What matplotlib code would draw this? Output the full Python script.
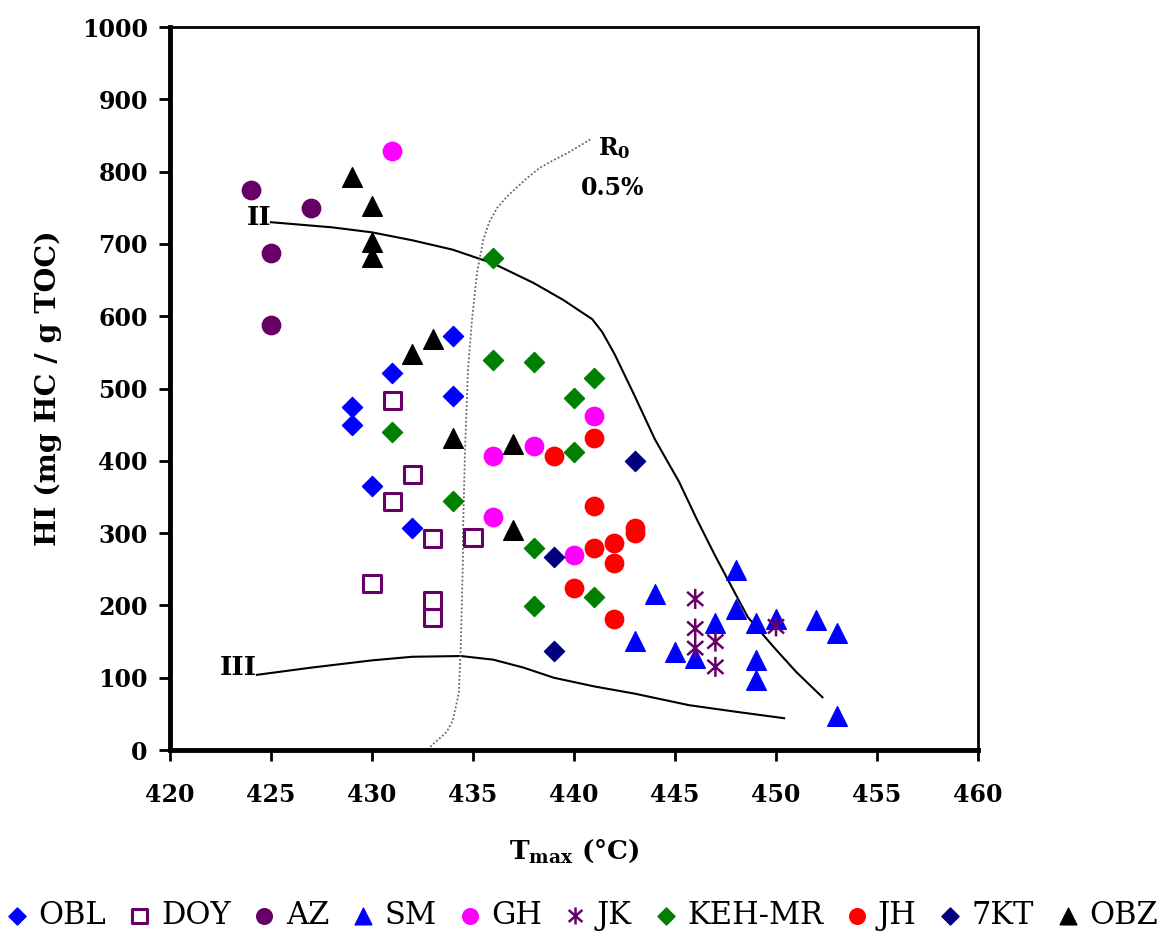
import matplotlib
matplotlib.use("Agg")
import matplotlib.pyplot as plt
from matplotlib.path import Path

plt.rcParams['font.family'] = 'DejaVu Serif'
plt.rcParams['mathtext.fontset'] = 'dejavuserif'

# sample data (Tmax in degC, HI in mg HC / g TOC)
obl_t = [434, 431, 434, 429, 429, 430, 432]
obl_hi = [572, 521, 490, 474, 449, 365, 307]

doy_t = [431, 432, 431, 433, 435, 430, 433, 433]
doy_hi = [483, 381, 344, 292, 294, 230, 207, 183]

az_t = [424, 427, 425, 425]
az_hi = [775, 750, 688, 588]

sm_t = [448, 444, 443, 445, 446, 447, 448, 449, 450, 452, 453, 449, 449, 453]
sm_hi = [249, 216, 151, 136, 127, 176, 195, 176, 181, 180, 162, 124, 97, 47]

gh_t = [431, 441, 436, 438, 436, 440]
gh_hi = [828, 462, 406, 420, 322, 270]

jk_t = [446, 446, 446, 447, 447, 450]
jk_hi = [209, 168, 141, 150, 115, 171]

keh_t = [436, 436, 438, 441, 440, 431, 440, 434, 438, 438, 441]
keh_hi = [680, 539, 536, 514, 487, 440, 412, 344, 279, 199, 211]

jh_t = [441, 439, 441, 441, 442, 443, 443, 442, 440, 442]
jh_hi = [431, 406, 338, 279, 286, 307, 300, 259, 224, 181]

kt_t = [443, 439, 439]
kt_hi = [400, 267, 137]

obz_t = [429, 430, 430, 430, 432, 433, 434, 437, 437]
obz_hi = [793, 752, 702, 682, 548, 568, 432, 423, 305]

# kerogen type boundaries and Ro 0.5% line
type2_t = [425, 428, 430, 432, 434, 436, 438, 439.5, 440.3, 440.9, 441.4, 442, 443,
           444, 445.2, 446.1, 447, 447.8, 448.6, 449.9, 451, 452.3]
type2_hi = [730, 723, 716, 705, 692, 673, 646, 622, 607, 596, 578, 548, 490,
            430, 371, 318, 268, 226, 184, 142, 108, 73]

type3_t = [424.3, 427, 430, 432, 434.4, 436, 437.5, 439, 441, 443, 445.7, 448, 450.4]
type3_hi = [104, 114, 124, 129, 130, 125, 114, 100, 88, 78, 62, 53, 44]

ro_t = [432.6, 433.1, 433.7, 434.0, 434.3, 434.4, 434.5, 434.5, 434.6, 434.75,
        434.95, 435.2, 435.5, 435.8, 436.2, 436.7, 437.2, 437.8, 438.3, 439.0, 439.7, 440.9]
ro_hi = [-3, 10, 25, 41, 79, 148, 263, 295, 410, 525,
         595, 660, 705, 730, 750, 766, 779, 794, 805, 816, 826, 846]

asterisk = Path([(0, -1), (0, 1), (-0.8, -0.7), (0.8, 0.7), (-0.8, 0.7), (0.8, -0.7)],
                [Path.MOVETO, Path.LINETO, Path.MOVETO, Path.LINETO, Path.MOVETO, Path.LINETO])

fig = plt.figure(figsize=(11.7, 9.38), dpi=100)
ax = fig.add_axes([0.1453, 0.2004, 0.6906, 0.7708])

ax.plot(type2_t, type2_hi, color='black', lw=1.5, zorder=2)
ax.plot(type3_t, type3_hi, color='black', lw=1.5, zorder=2)
ax.plot(ro_t, ro_hi, color='#666666', lw=1.3, ls=(0, (1, 1.2)), zorder=2)

series = [
    ('OBL', obl_t, obl_hi, dict(marker='D', s=105, c='#0000FF')),
    ('DOY', doy_t, doy_hi, dict(marker='s', s=150, facecolors='none', edgecolors='#660066', linewidths=2.2)),
    ('AZ', az_t, az_hi, dict(marker='o', s=175, c='#660066')),
    ('SM', sm_t, sm_hi, dict(marker='^', s=200, c='#0000FF')),
    ('GH', gh_t, gh_hi, dict(marker='o', s=175, c='#FF00FF')),
    ('JK', jk_t, jk_hi, dict(marker=asterisk, s=210, facecolors='none', edgecolors='#660066', linewidths=1.8)),
    ('KEH-MR', keh_t, keh_hi, dict(marker='D', s=105, c='#008000')),
    ('JH', jh_t, jh_hi, dict(marker='o', s=175, c='#FF0000')),
    ('7KT', kt_t, kt_hi, dict(marker='D', s=105, c='#000080')),
    ('OBZ', obz_t, obz_hi, dict(marker='^', s=200, c='black')),
]
for name, xs, ys, kw in series:
    ax.scatter(xs, ys, zorder=3, label=name, **kw)

ax.text(425, 736, 'II', ha='right', va='center', fontsize=19, fontweight='bold')
ax.text(424.3, 114, 'III', ha='right', va='center', fontsize=19, fontweight='bold')
ax.text(441.2, 833, r'R$_\mathbf{0}$', ha='left', va='center', fontsize=17, fontweight='bold')
ax.text(441.9, 777, '0.5%', ha='center', va='center', fontsize=17, fontweight='bold')

ax.set_xlim(420, 460)
ax.set_ylim(0, 1000)
ax.set_xticks(range(420, 461, 5))
ax.set_yticks(range(0, 1001, 100))
ax.tick_params(axis='both', labelsize=17, width=2, length=8, direction='out')
ax.tick_params(axis='x', pad=16)
ax.tick_params(axis='y', pad=8)
for lab in ax.get_xticklabels() + ax.get_yticklabels():
    lab.set_fontweight('bold')

ax.spines['left'].set_linewidth(3.5)
ax.spines['bottom'].set_linewidth(3.5)
ax.spines['top'].set_linewidth(2)
ax.spines['right'].set_linewidth(2)

ax.set_xlabel(r'$\mathbf{T}_{\mathbf{max}}$ (°C)', fontsize=19, fontweight='bold', labelpad=22)
ax.set_ylabel('HI (mg HC / g TOC)', fontsize=20.5, fontweight='bold', labelpad=14)

handles, labels = ax.get_legend_handles_labels()
fig.legend(handles, labels, ncol=10, loc='center left', bbox_to_anchor=(0.004, 0.024),
           frameon=False, fontsize=22, handletextpad=0.3, columnspacing=0.7,
           handlelength=0.8, markerscale=0.85, borderaxespad=0, borderpad=0)

fig.savefig('out.png', dpi=100)
